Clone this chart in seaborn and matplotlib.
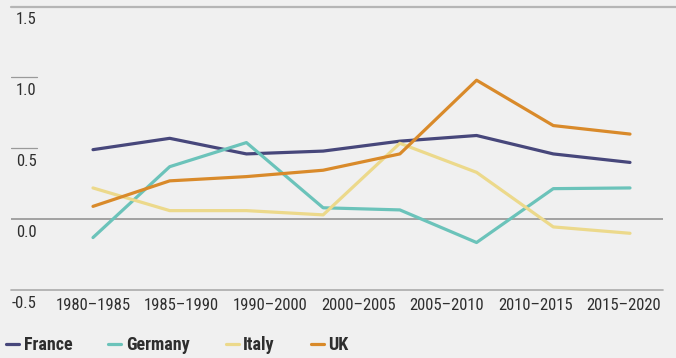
import numpy as np
import pandas as pd
import matplotlib
matplotlib.use("Agg")
import matplotlib.pyplot as plt
import matplotlib.transforms as mtransforms
import seaborn as sns

# Data: growth contribution by period (eight observations per country)
countries = ["France", "Germany", "Italy", "UK"]
france = [0.49, 0.57, 0.46, 0.48, 0.55, 0.59, 0.46, 0.40]
germany = [-0.13, 0.37, 0.54, 0.08, 0.065, -0.165, 0.215, 0.22]
italy = [0.22, 0.06, 0.06, 0.03, 0.535, 0.33, -0.055, -0.10]
uk = [0.09, 0.27, 0.30, 0.345, 0.46, 0.98, 0.66, 0.60]
period_labels = ["1980–1985", "1985–1990", "1990–2000", "2000–2005",
                 "2005–2010", "2010–2015", "2015–2020"]
y_ticks = [1.5, 1.0, 0.5, 0.0, -0.5]
y_tick_labels = ["1.5", "1.0", "0.5", "0.0", "-0.5"]

colors = {"France": "#47477b", "Germany": "#6bc3ba",
          "Italy": "#ecd98b", "UK": "#d98a2a"}

steps = np.arange(len(france))
df = pd.DataFrame({
    "step": np.tile(steps, 4),
    "value": france + germany + italy + uk,
    "country": np.repeat(countries, len(france)),
})

sns.set_theme(style="white")
plt.rcParams["font.family"] = ["Roboto Condensed", "DejaVu Sans"]
bg = "#f0f0f0"
text_color = "#2e2e2e"

W, H = 676, 358
fig = plt.figure(figsize=(W / 100, H / 100), dpi=100, facecolor=bg)
left_px, right_px, top_px, bottom_px = 11, 663, 6.5, 290
ax = fig.add_axes([left_px / W, 1 - bottom_px / H,
                   (right_px - left_px) / W, (bottom_px - top_px) / H])
ax.set_facecolor(bg)

sns.lineplot(data=df, x="step", y="value", hue="country", palette=colors,
             linewidth=2.3, ax=ax, legend=False, sort=False)

# x range so that first/last observations sit at 93 px and 630 px
unit = (630 - 93) / 7
ax.set_xlim(-(93 - left_px) / unit, 7 + (right_px - 630) / unit)
ax.set_ylim(-0.5, 1.5)

for s in ax.spines.values():
    s.set_visible(False)

# Reference lines
full_span = (W - left_px) / (right_px - left_px)
short_span = (37 - left_px) / (right_px - left_px)
ax.axhline(1.5, xmin=0, xmax=full_span, color="#b5b5b5", lw=1.6, clip_on=False, zorder=1)
ax.axhline(1.0, xmin=0, xmax=short_span, color="#9a9a9a", lw=0.9, zorder=1)
ax.axhline(0.5, xmin=0, xmax=short_span, color="#9a9a9a", lw=0.9, zorder=1)
ax.axhline(0.0, color="#8c8c8c", lw=1.1, zorder=1)
ax.axhline(-0.5, color="#ababab", lw=1.2, clip_on=False, zorder=1)

# y labels sit just below their lines
ax.set_yticks([])
offset = mtransforms.ScaledTranslation(0, -13.5 / 100, fig.dpi_scale_trans)
trans = mtransforms.blended_transform_factory(ax.transAxes, ax.transData) + offset
xr = (36.5 - left_px) / (right_px - left_px)
for v, lab in zip(y_ticks, y_tick_labels):
    ax.text(xr, v, lab, transform=trans, ha="right", va="center",
            fontsize=12, color=text_color, clip_on=False)

ax.set_xticks(np.linspace(0, 6.92, len(period_labels)))
ax.set_xticklabels(period_labels, fontsize=12, color=text_color)
ax.tick_params(axis="x", length=0, pad=5.5)
ax.set_xlabel("")
ax.set_ylabel("")

handles = [plt.Line2D([], [], color=colors[c], lw=2.3) for c in countries]
leg = fig.legend(handles, countries, loc="center left",
                 bbox_to_anchor=(6 / W, 1 - 345 / H), ncol=4, frameon=False,
                 handlelength=0.72, handletextpad=0.25, columnspacing=2.0,
                 borderaxespad=0, borderpad=0,
                 prop={"size": 13, "weight": "bold"})
for t in leg.get_texts():
    t.set_color(text_color)

fig.savefig("out.png", dpi=100, facecolor=bg)
